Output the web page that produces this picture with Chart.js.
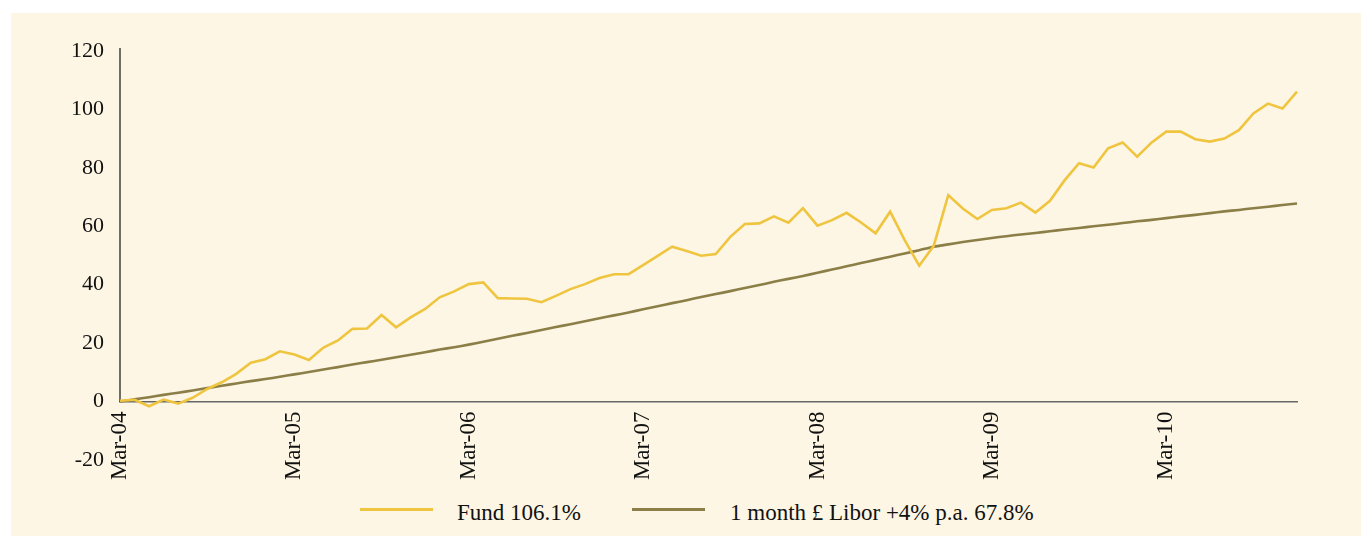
<!DOCTYPE html>
<html lang="en">

<head>
    <meta charset="UTF-8" />
    <title>Fund vs 1 month Libor +4%</title>
    <script src="https://cdn.jsdelivr.net/npm/chart.js@4.4.0/dist/chart.umd.min.js"></script>
    <style>
        body { margin: 0; background: #fff; width: 1361px; height: 536px; overflow: hidden; position: relative; }
        #panel { position: absolute; left: 11px; top: 13px; width: 1350px; height: 523px; background: #fdf6e4; }
        #wrap { position: absolute; left: 0; top: 0; width: 1350px; height: 480px; }
        .lg { position: absolute; font-family: 'Liberation Serif', serif; font-size: 23px; line-height: 24px; color: #111; white-space: nowrap; }
        .sw { position: absolute; width: 73px; height: 2.5px; }
    </style>
</head>

<body>
    <div id="panel">
        <div id="wrap"><canvas id="chart"></canvas></div>
        <div class="sw" style="left:349px; top:495px; background:#efc540"></div>
        <div class="lg" id="lg1" style="left:446px; top:488px"></div>
        <div class="sw" style="left:621px; top:495px; background:#8b7e46"></div>
        <div class="lg" id="lg2" style="left:719px; top:488px"></div>
    </div>

    <script>
        // monthly categories, Mar-04 .. Dec-10
        const monthNames = ['Jan', 'Feb', 'Mar', 'Apr', 'May', 'Jun', 'Jul', 'Aug', 'Sep', 'Oct', 'Nov', 'Dec'];
        const firstYear = 2004, firstMonth = 2, monthCount = 82;

        const tickLabels = ['Mar-04', 'Mar-05', 'Mar-06', 'Mar-07', 'Mar-08', 'Mar-09', 'Mar-10'];
        const yTicks = [-20, 0, 20, 40, 60, 80, 100, 120];

        const seriesNames = ['Fund 106.1%', '1 month \u00a3 Libor +4% p.a. 67.8%'];

        // cumulative return %
        const fundReturns = [
            0.3, 0.6, -1.6, 0.7, -0.7, 1.3, 4.3, 6.6, 9.5, 13.3, 14.5, 17.2,
            16.1, 14.2, 18.5, 20.9, 24.9, 25.0, 29.6, 25.4, 28.8, 31.7, 35.7, 37.7,
            40.2, 40.8, 35.4, 35.3, 35.2, 34.0, 36.2, 38.5, 40.2, 42.3, 43.6, 43.6,
            46.7, 49.9, 53.0, 51.5, 49.9, 50.5, 56.4, 60.8, 61.0, 63.4, 61.2, 66.2,
            60.2, 62.1, 64.6, 61.3, 57.6, 65.0, 55.3, 46.5, 53.3, 70.7, 66.1, 62.5,
            65.6, 66.2, 68.1, 64.7, 68.7, 75.7, 81.6, 80.1, 86.7, 88.7, 83.8, 88.7,
            92.4, 92.4, 89.8, 89.0, 90.0, 92.9, 98.6, 102.0, 100.3, 106.1
        ];
        const liborReturns = [
            0, 0.75, 1.5, 2.3, 3.0, 3.8, 4.6, 5.4, 6.2, 7.0, 7.7, 8.5,
            9.3, 10.1, 11.0, 11.8, 12.7, 13.5, 14.3, 15.2, 16.0, 16.9, 17.8, 18.6,
            19.5, 20.5, 21.5, 22.5, 23.5, 24.5, 25.5, 26.5, 27.5, 28.5, 29.5, 30.5,
            31.6, 32.6, 33.7, 34.7, 35.8, 36.8, 37.8, 38.9, 39.9, 41.0, 42.0, 43.0,
            44.1, 45.2, 46.3, 47.4, 48.5, 49.6, 50.7, 51.8, 53.0, 53.8, 54.6, 55.3,
            56.0, 56.6, 57.2, 57.7, 58.3, 58.9, 59.4, 60.0, 60.5, 61.1, 61.7, 62.2,
            62.8, 63.4, 63.9, 64.5, 65.1, 65.6, 66.2, 66.7, 67.3, 67.8
        ];

        const labels = [];
        for (let i = 0; i < monthCount; i++) {
            const m = (firstMonth + i) % 12;
            const yr = firstYear + Math.floor((firstMonth + i) / 12);
            labels.push(monthNames[m] + '-' + String(yr).slice(2));
        }

        document.getElementById('lg1').textContent = seriesNames[0];
        document.getElementById('lg2').textContent = seriesNames[1];

        const serif = "'Liberation Serif', serif";

        // y axis line only runs from the top tick down to zero
        const yAxisLine = {
            id: 'yAxisLine',
            beforeDatasetsDraw(chart) {
                const { ctx, scales: { x, y } } = chart;
                ctx.save();
                ctx.strokeStyle = '#222';
                ctx.lineWidth = 1.3;
                ctx.beginPath();
                ctx.moveTo(x.left, y.getPixelForValue(120) - 3);
                ctx.lineTo(x.left, y.getPixelForValue(0));
                ctx.stroke();
                ctx.restore();
            }
        };

        const ctx = document.getElementById('chart').getContext('2d');
        const myChart = new Chart(ctx, {
            type: 'line',
            data: {
                labels: labels,
                datasets: [{
                    label: seriesNames[0],
                    data: fundReturns,
                    borderColor: '#efc540',
                    borderWidth: 2.6,
                    pointRadius: 0,
                    tension: 0,
                    fill: false
                }, {
                    label: seriesNames[1],
                    data: liborReturns,
                    borderColor: '#8b7e46',
                    borderWidth: 2.6,
                    pointRadius: 0,
                    tension: 0.3,
                    fill: false
                }]
            },
            options: {
                responsive: true,
                maintainAspectRatio: false,
                animation: false,
                layout: { padding: { top: 38, right: 64, bottom: 33, left: 0 } },
                plugins: {
                    legend: { display: false },
                    tooltip: { enabled: false }
                },
                scales: {
                    x: {
                        type: 'category',
                        position: { y: 0 },
                        grid: { display: false, drawTicks: false },
                        border: { display: true, color: '#666', width: 1.5 },
                        ticks: {
                            autoSkip: false,
                            minRotation: 90,
                            maxRotation: 90,
                            padding: 10,
                            color: '#111',
                            font: { family: serif, size: 23 },
                            callback: function (val) {
                                const l = this.getLabelForValue(val);
                                return tickLabels.includes(l) ? l : '';
                            }
                        }
                    },
                    y: {
                        min: yTicks[0],
                        max: yTicks[yTicks.length - 1],
                        afterFit: (scale) => { scale.width = 109; },
                        afterBuildTicks: (scale) => { scale.ticks = yTicks.map(v => ({ value: v })); },
                        grid: { display: false, drawTicks: false },
                        border: { display: false },
                        ticks: {
                            padding: 16,
                            color: '#111',
                            font: { family: serif, size: 22 }
                        }
                    }
                }
            },
            plugins: [yAxisLine]
        });
    </script>
</body>

</html>
